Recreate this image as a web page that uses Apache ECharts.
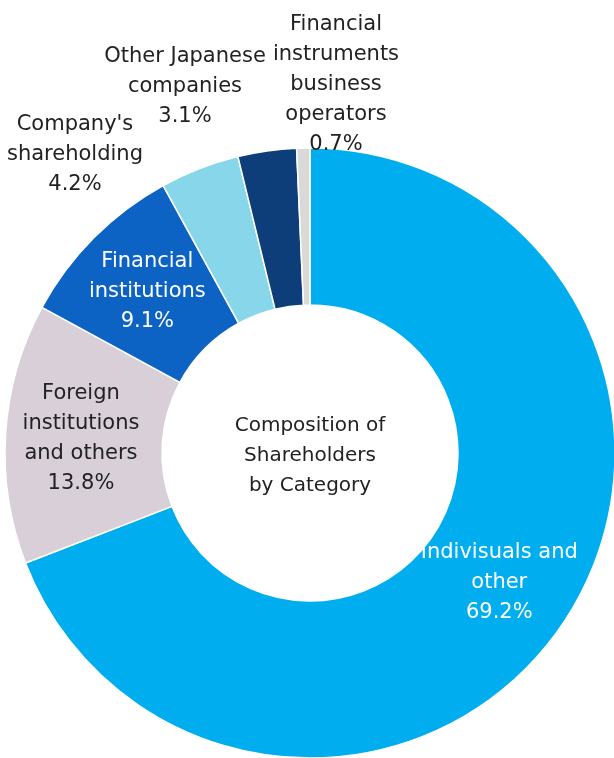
<!DOCTYPE html>
<html>
<head>
<meta charset="utf-8">
<script src="https://cdn.jsdelivr.net/npm/echarts@6/dist/echarts.min.js"></script>
<style>
html, body { margin: 0; padding: 0; background: #fff; }
#chart { width: 614px; height: 758px; }
</style>
</head>
<body>
<div id="chart"></div>
<script>
// 股东构成（顺时针，从正上方开始）
const categories = [
  'Indivisuals and\nother',
  'Foreign\ninstitutions\nand others',
  'Financial\ninstitutions',
  "Company's\nshareholding",
  'Other Japanese\ncompanies',
  'Financial\ninstruments\nbusiness\noperators'
]
const shares = [69.2, 13.8, 9.1, 4.2, 3.1, 0.7]
const colors = ['#00aeef', '#d8cfd8', '#0c63c4', '#88d6ea', '#0d3e7a', '#d9d9d9']
const labelColors = ['#fff', '#222', '#fff', '#222', '#222', '#222']
const insideCount = 3
const centerTitle = 'Composition of\nShareholders\nby Category'

// outside label anchors (text centre)
const outsidePos = {
  3: [75, 155],
  4: [185, 87],
  5: [336, 85]
}

const chart = echarts.init(document.getElementById('chart'))
const option = {
  animation: false,
  textStyle: { fontFamily: 'DejaVu Sans' },
  graphic: [{
    type: 'text',
    x: 310,
    y: 456,
    style: {
      text: centerTitle,
      fill: '#222',
      font: '20px "DejaVu Sans"',
      lineHeight: 30,
      align: 'center',
      verticalAlign: 'middle'
    }
  }],
  series: [{
    type: 'pie',
    center: [310, 453],
    radius: [148, 305],
    startAngle: 90,
    clockwise: true,
    avoidLabelOverlap: false,
    itemStyle: { borderColor: '#fff', borderWidth: 1.5 },
    labelLine: { show: false },
    label: {
      fontSize: 21,
      lineHeight: 30,
      align: 'center'
    },
    labelLayout: (params) => {
      const p = outsidePos[params.dataIndex]
      if (!p) return {}
      return { x: p[0], y: p[1], align: 'center', verticalAlign: 'middle' }
    },
    data: categories.map((name, i) => ({
      name: name,
      value: shares[i],
      itemStyle: { color: colors[i] },
      label: {
        position: i < insideCount ? 'inside' : 'outside',
        color: labelColors[i],
        formatter: (p) => p.name + '\n' + shares[i].toFixed(1) + '%'
      }
    }))
  }]
}
chart.setOption(option)
</script>
</body>
</html>
